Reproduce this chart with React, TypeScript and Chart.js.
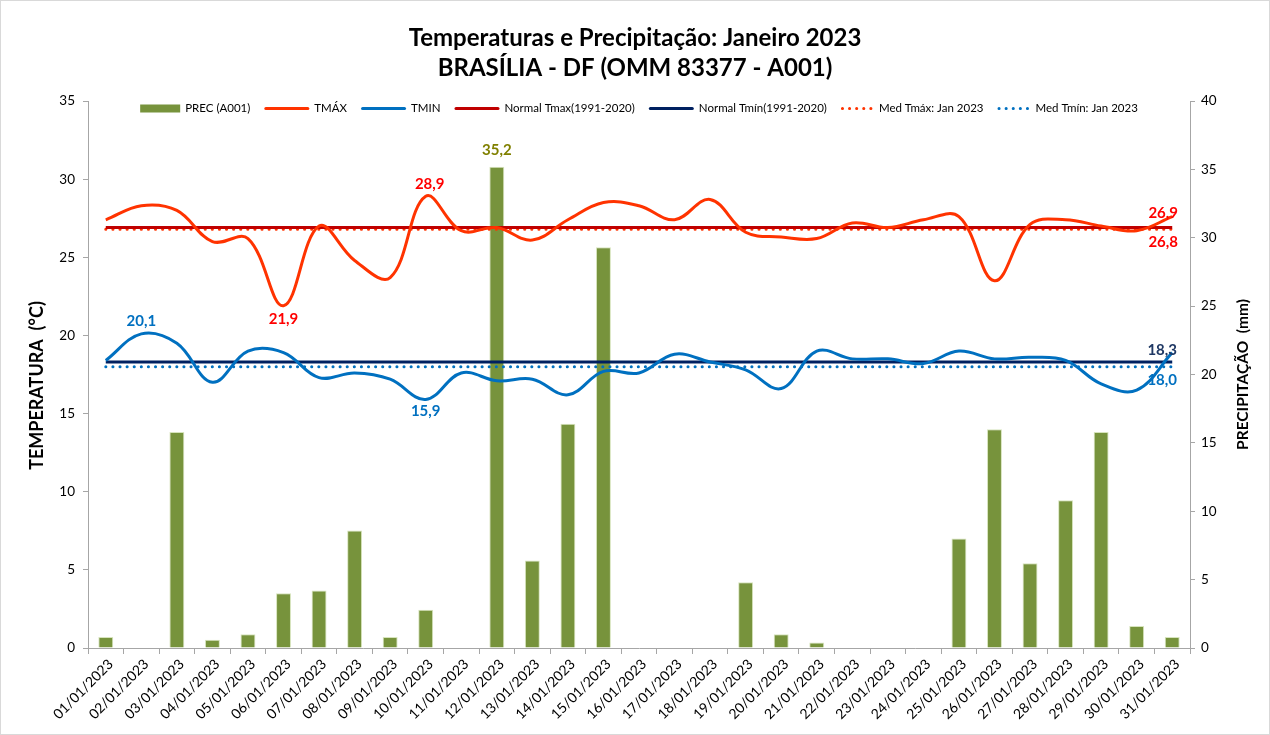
import React, { useEffect, useRef } from 'react';
import { Chart, registerables } from 'chart.js';

Chart.register(...registerables);

const categories = [
  '01/01/2023', '02/01/2023', '03/01/2023', '04/01/2023', '05/01/2023', '06/01/2023', '07/01/2023', '08/01/2023',
  '09/01/2023', '10/01/2023', '11/01/2023', '12/01/2023', '13/01/2023', '14/01/2023', '15/01/2023', '16/01/2023',
  '17/01/2023', '18/01/2023', '19/01/2023', '20/01/2023', '21/01/2023', '22/01/2023', '23/01/2023', '24/01/2023',
  '25/01/2023', '26/01/2023', '27/01/2023', '28/01/2023', '29/01/2023', '30/01/2023', '31/01/2023',
];

const precipitation = [
  0.8, 0, 15.8, 0.6, 1.0, 4.0, 4.2, 8.6, 0.8, 2.8, 0, 35.2, 6.4, 16.4, 29.3, 0,
  0, 0, 4.8, 1.0, 0.4, 0, 0, 0, 8.0, 16.0, 6.2, 10.8, 15.8, 1.6, 0.8,
];

const tmax = [
  27.4, 28.3, 28.0, 26.0, 26.2, 21.9, 27.0, 24.8, 23.7, 28.9, 26.7, 26.9, 26.1, 27.4, 28.5, 28.3,
  27.4, 28.7, 26.6, 26.3, 26.2, 27.2, 26.9, 27.4, 27.6, 23.5, 27.1, 27.4, 27.0, 26.7, 27.6,
];

const tmin = [
  18.4, 20.1, 19.5, 17.0, 19.0, 18.9, 17.3, 17.6, 17.2, 15.9, 17.6, 17.1, 17.2, 16.2, 17.7, 17.6,
  18.8, 18.3, 17.8, 16.6, 19.0, 18.5, 18.5, 18.2, 19.0, 18.5, 18.6, 18.4, 16.9, 16.5, 18.9,
];

const normalTmax = 26.9;
const normalTmin = 18.3;
const medTmax = 26.8;
const medTmin = 18.0;

const seriesNames = [
  'PREC (A001)', 'TMÁX', 'TMIN', 'Normal Tmax(1991-2020)', 'Normal Tmín(1991-2020)',
  'Med Tmáx: Jan 2023', 'Med Tmín: Jan 2023',
];

const titleLines = ['Temperaturas e Precipitação: Janeiro 2023', 'BRASÍLIA - DF (OMM 83377 - A001)'];
const leftAxisTitle = 'TEMPERATURA  (°C)';
const rightAxisTitle = 'PRECIPITAÇÃO  (mm)';

const tempTickMin = 0;
const tempTickMax = 35;
const precTickMin = 0;
const precTickMax = 40;
const tickStep = 5;

// value labels: dataset index, point index, offsets, colour
const valueLabels = [
  { ds: 2, idx: 1, dx: 0, dy: -13, color: '#0070c0' },
  { ds: 1, idx: 5, dx: 0, dy: 13, color: '#ff0000' },
  { ds: 1, idx: 9, dx: 4, dy: -12, color: '#ff0000' },
  { ds: 2, idx: 9, dx: 0, dy: 12, color: '#0070c0' },
  { ds: 0, idx: 11, dx: 0, dy: -16, color: '#808000' },
  { ds: 3, idx: 30, dx: -9, dy: -14, color: '#ff0000' },
  { ds: 5, idx: 30, dx: -9, dy: 13, color: '#ff0000' },
  { ds: 4, idx: 30, dx: -10, dy: -12, color: '#1f3864' },
  { ds: 6, idx: 30, dx: -10, dy: 13, color: '#0070c0' },
];

const FONT = 'Lato, Calibri, "Open Sans", sans-serif';

const fmt = (v: number) => v.toFixed(1).replace('.', ',');

const bgPlugin = {
  id: 'bgBorder',
  beforeDraw(chart: any) {
    const { ctx, width, height } = chart;
    ctx.save();
    ctx.fillStyle = '#ffffff';
    ctx.fillRect(0, 0, width, height);
    ctx.strokeStyle = '#d9d9d9';
    ctx.lineWidth = 1;
    ctx.strokeRect(0.5, 0.5, width - 1, height - 1);
    ctx.restore();
  },
};

const labelPlugin = {
  id: 'valueLabels',
  afterDatasetsDraw(chart: any) {
    const ctx = chart.ctx;
    ctx.save();
    ctx.font = `bold 15px ${FONT}`;
    ctx.textAlign = 'center';
    ctx.textBaseline = 'middle';
    for (const l of valueLabels) {
      const el = chart.getDatasetMeta(l.ds).data[l.idx];
      const v = chart.data.datasets[l.ds].data[l.idx] as number;
      ctx.fillStyle = l.color;
      ctx.fillText(fmt(v), el.x + l.dx, el.y + l.dy);
    }
    ctx.restore();
  },
};

const legendPlugin = {
  id: 'customLegend',
  afterDraw(chart: any) {
    const ctx = chart.ctx;
    const area = chart.chartArea;
    ctx.save();
    ctx.font = `11.5px ${FONT}`;
    ctx.textBaseline = 'middle';
    ctx.textAlign = 'left';
    const dss = chart.data.datasets;
    const gap = 5;
    const pad = 14;
    const items = dss.map((ds: any) => {
      const sym = ds.type === 'bar' ? 40 : ds.borderDash ? 33 : 45;
      return { ds, sym, tw: ctx.measureText(ds.label).width };
    });
    const total = items.reduce((s: number, it: any) => s + it.sym + gap + it.tw, 0) + pad * (items.length - 1);
    let x = (area.left + area.right) / 2 - total / 2;
    const y = area.top + 7.5;
    for (const it of items) {
      const ds = it.ds;
      if (ds.type === 'bar') {
        ctx.fillStyle = ds.backgroundColor;
        ctx.fillRect(x, y - 4, it.sym, 8);
      } else {
        ctx.beginPath();
        ctx.strokeStyle = ds.borderColor;
        ctx.lineWidth = ds.borderWidth;
        ctx.setLineDash(ds.borderDash ? ds.borderDash : []);
        ctx.lineCap = 'round';
        ctx.moveTo(x + 1.5, y);
        ctx.lineTo(x + it.sym - 1.5, y);
        ctx.stroke();
      }
      ctx.setLineDash([]);
      ctx.fillStyle = '#000000';
      ctx.fillText(ds.label, x + it.sym + gap, y);
      x += it.sym + gap + it.tw + pad;
    }
    ctx.restore();
  },
};

const axisTitlePlugin = {
  id: 'axisTitles',
  afterDraw(chart: any) {
    const ctx = chart.ctx;
    const area = chart.chartArea;
    const mid = (area.top + area.bottom) / 2;
    const draw = (text: string, x: number, y: number, size: number) => {
      ctx.save();
      ctx.translate(x, y);
      ctx.rotate(-Math.PI / 2);
      ctx.font = `bold ${size}px ${FONT}`;
      ctx.fillStyle = '#000000';
      ctx.textAlign = 'center';
      ctx.textBaseline = 'middle';
      ctx.fillText(text, 0, 0);
      ctx.restore();
    };
    draw(leftAxisTitle, 37, mid + 11, 18);
    draw(rightAxisTitle, 1243, mid, 15.5);
  },
};

export default function App() {
  const ref = useRef<HTMLCanvasElement | null>(null);

  useEffect(() => {
    if (!ref.current) return;
    const flat = (v: number) => categories.map(() => v);
    const lineBase = {
      type: 'line' as const,
      pointRadius: 0,
      pointHoverRadius: 0,
      fill: false,
      yAxisID: 'y',
    };
    const chart = new Chart(ref.current, {
      data: {
        labels: categories,
        datasets: [
          {
            type: 'bar',
            label: seriesNames[0],
            data: precipitation,
            backgroundColor: '#77933c',
            borderColor: '#d7e4bd',
            borderWidth: 1,
            barPercentage: 0.42,
            categoryPercentage: 1,
            yAxisID: 'y1',
            order: 10,
          },
          { ...lineBase, label: seriesNames[1], data: tmax, borderColor: '#ff3300', borderWidth: 3, tension: 0.38, order: 1 },
          { ...lineBase, label: seriesNames[2], data: tmin, borderColor: '#0070c0', borderWidth: 3, tension: 0.38, order: 2 },
          { ...lineBase, label: seriesNames[3], data: flat(normalTmax), borderColor: '#c00000', borderWidth: 3, order: 3 },
          { ...lineBase, label: seriesNames[4], data: flat(normalTmin), borderColor: '#002060', borderWidth: 3, order: 4 },
          {
            ...lineBase, label: seriesNames[5], data: flat(medTmax), borderColor: '#ff3300', borderWidth: 3,
            borderDash: [0.1, 7], borderCapStyle: 'round', order: 5,
          },
          {
            ...lineBase, label: seriesNames[6], data: flat(medTmin), borderColor: '#0070c0', borderWidth: 3,
            borderDash: [0.1, 7], borderCapStyle: 'round', order: 6,
          },
        ] as any,
      },
      options: {
        responsive: false,
        animation: false,
        layout: { padding: 0 },
        plugins: {
          legend: { display: false },
          tooltip: { enabled: false },
          title: {
            display: true,
            text: titleLines,
            color: '#000000',
            font: { family: FONT, size: 24, weight: 'bold', lineHeight: 1.25 },
            padding: { top: 23, bottom: 18 },
          },
        },
        scales: {
          x: {
            type: 'category',
            offset: true,
            grid: { offset: true, drawOnChartArea: false, drawTicks: true, tickLength: 6, color: '#a6a6a6' },
            border: { color: '#a6a6a6', width: 1 },
            ticks: {
              autoSkip: false,
              minRotation: 45,
              maxRotation: 45,
              padding: 2,
              labelOffset: 5,
              color: '#000000',
              font: { family: FONT, size: 14 },
            },
            afterFit: (s: any) => { s.height = 87; },
          },
          y: {
            type: 'linear',
            position: 'left',
            min: tempTickMin,
            max: tempTickMax,
            grid: { drawOnChartArea: false, drawTicks: true, tickLength: 5, color: '#a6a6a6' },
            border: { color: '#a6a6a6', width: 1 },
            ticks: { stepSize: tickStep, padding: 8, color: '#000000', font: { family: FONT, size: 13.5 } },
            afterFit: (s: any) => { s.width = 88; },
          },
          y1: {
            type: 'linear',
            position: 'right',
            min: precTickMin,
            max: precTickMax,
            grid: { drawOnChartArea: false, drawTicks: true, tickLength: 5, color: '#a6a6a6' },
            border: { color: '#a6a6a6', width: 1 },
            ticks: { stepSize: tickStep, padding: 6, color: '#000000', font: { family: FONT, size: 13.5 } },
            afterFit: (s: any) => { s.width = 80; },
          },
        },
      } as any,
      plugins: [bgPlugin, labelPlugin, legendPlugin, axisTitlePlugin],
    });
    return () => chart.destroy();
  }, []);

  return (
    <div style={{ position: 'absolute', left: 0, top: 0, width: 1270, height: 735 }}>
      <canvas ref={ref} width={1270} height={735} style={{ width: 1270, height: 735, display: 'block' }} />
    </div>
  );
}
